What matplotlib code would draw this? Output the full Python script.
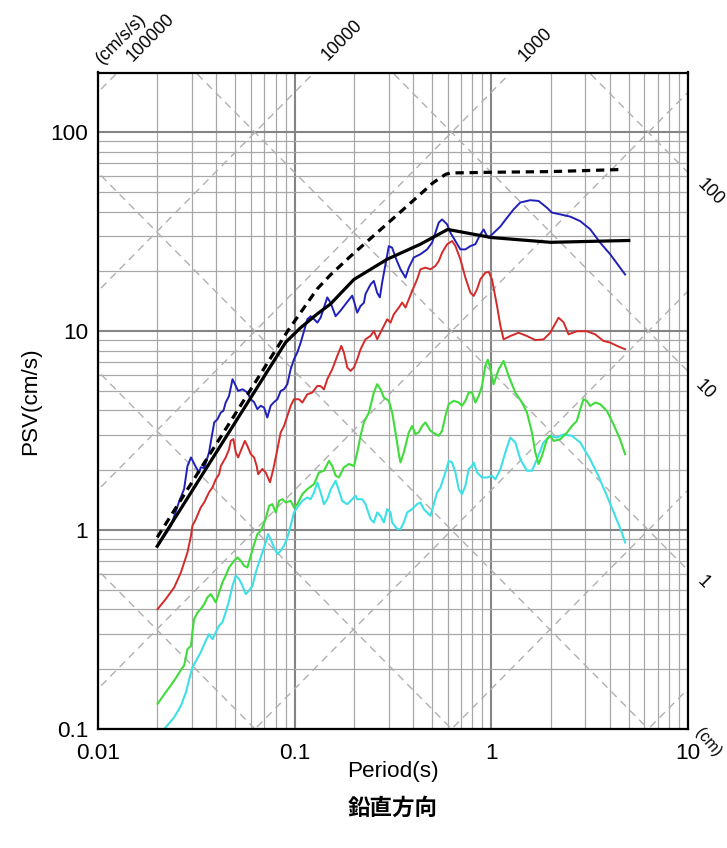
import numpy as np
import matplotlib
matplotlib.use("Agg")
import matplotlib.pyplot as plt
from matplotlib.ticker import LogLocator, NullFormatter, FixedLocator, FixedFormatter

plt.rcParams['font.family'] = ['Liberation Sans', 'DejaVu Sans']

# ---------------- data ----------------
x_ticks = [0.01, 0.1, 1, 10]
x_ticklabels = ['0.01', '0.1', '1', '10']
y_ticks = [0.1, 1, 10, 100]
y_ticklabels = ['0.1', '1', '10', '100']

accel_levels = [1e-1, 1e0, 1e1, 1e2, 1e3, 1e4, 1e5]          # cm/s/s
accel_labels = {1e5: '100000', 1e4: '10000', 1e3: '1000'}
disp_levels = [1e-3, 1e-2, 1e-1, 1e0, 1e1, 1e2]               # cm
disp_labels = {1e2: '100', 1e1: '10', 1e0: '1'}

design_T = [0.02, 0.09, 0.107, 0.13, 0.152, 0.2, 0.295, 0.436, 0.6, 1.0, 2.0, 5.0]
design_V = [0.83, 8.8, 10.4, 12.2, 13.7, 18.2, 23.0, 27.4, 32.5, 29.6, 28.0, 28.6]

upper_T = [0.02, 0.092, 0.13, 0.152, 0.192, 0.357, 0.508, 0.585, 0.62, 1.0, 2.0, 4.5]
upper_V = [0.92, 10.0, 16.3, 19.2, 23.8, 41.0, 56.0, 61.5, 62.5, 63.0, 63.5, 65.0]

blue_T = [0.0201, 0.0235, 0.0259, 0.0274, 0.0285, 0.0297, 0.0315, 0.0327, 0.0333, 0.0347,
          0.0367, 0.0382, 0.0390, 0.0405, 0.0421, 0.0434, 0.0446, 0.0464, 0.0483, 0.0502,
          0.0516, 0.0543, 0.0575, 0.0598, 0.0622, 0.0646, 0.0672, 0.0699, 0.0726, 0.0755,
          0.0785, 0.0817, 0.0849, 0.0883, 0.0918, 0.0954, 0.0992, 0.1031, 0.1073, 0.1115,
          0.1160, 0.1206, 0.1254, 0.1304, 0.1355, 0.1465, 0.1523, 0.1615, 0.1712, 0.1815,
          0.1962, 0.2001, 0.2080, 0.2163, 0.2249, 0.2293, 0.2431, 0.2527, 0.2628, 0.2711,
          0.2786, 0.2897, 0.3012, 0.3132, 0.3256, 0.3452, 0.3660, 0.3805, 0.4035, 0.4362,
          0.4715, 0.4998, 0.5196, 0.5404, 0.5619, 0.5957, 0.6194, 0.6567, 0.6961, 0.7380,
          0.7824, 0.8295, 0.8794, 0.9144, 0.9506, 0.969, 1.027, 1.111, 1.201, 1.298,
          1.404, 1.578, 1.739, 1.917, 2.033, 2.240, 2.518, 2.830, 3.180, 3.575,
          4.019, 4.788]
blue_V = [0.83, 1.05, 1.40, 1.61, 2.10, 2.32, 2.07, 1.95, 2.07, 2.05,
          2.46, 3.10, 3.48, 3.61, 3.90, 3.98, 4.38, 4.73, 5.74, 5.31,
          5.01, 5.11, 4.92, 4.55, 4.40, 4.06, 4.22, 4.13, 3.68, 4.22,
          4.40, 4.55, 5.01, 5.11, 5.42, 6.44, 7.23, 7.81, 8.77, 10.0,
          11.5, 11.9, 11.5, 11.05, 11.7, 14.8, 13.9, 11.9, 12.7, 13.7,
          15.1, 14.2, 12.4, 13.4, 13.9, 15.4, 17.2, 17.9, 15.6, 14.8,
          17.6, 21.7, 26.8, 26.3, 23.5, 20.5, 18.6, 20.9, 23.5, 24.4,
          25.8, 27.9, 31.3, 35.2, 36.5, 34.5, 31.3, 28.4, 25.8, 25.8,
          26.8, 27.4, 30.7, 32.5, 30.1, 29.5, 31.2, 33.6, 37.2, 41.0,
          44.4, 45.6, 45.2, 41.8, 39.5, 38.7, 37.7, 35.8, 32.6, 27.9,
          24.4, 19.3]

red_T = [0.0201, 0.0221, 0.0244, 0.0264, 0.0285, 0.0297, 0.0302, 0.0315, 0.0333, 0.0347,
         0.0367, 0.0382, 0.0397, 0.0413, 0.0421, 0.0446, 0.0464, 0.0473, 0.0488, 0.0502,
         0.0516, 0.0536, 0.0558, 0.0575, 0.0598, 0.0622, 0.0641, 0.0652, 0.0685, 0.0712,
         0.0749, 0.0779, 0.0817, 0.0849, 0.0883, 0.0954, 0.0992, 0.1052, 0.1094, 0.1160,
         0.1230, 0.1304, 0.1355, 0.1409, 0.1465, 0.1553, 0.1647, 0.1726, 0.1780, 0.1851,
         0.1924, 0.2001, 0.2080, 0.2163, 0.2293, 0.2431, 0.2527, 0.2628, 0.2732, 0.2841,
         0.2954, 0.3071, 0.3193, 0.3386, 0.3520, 0.3660, 0.3805, 0.3957, 0.4195, 0.4362,
         0.4624, 0.4902, 0.5196, 0.5404, 0.5619, 0.5957, 0.6317, 0.6567, 0.6961, 0.7380,
         0.7824, 0.8134, 0.8458, 0.8794, 0.9322, 0.9694, 1.008, 1.069, 1.111, 1.154,
         1.248, 1.376, 1.518, 1.673, 1.843, 1.993, 2.196, 2.328, 2.469, 2.722,
         3.060, 3.373, 3.716, 4.019, 4.346, 4.788]
red_V = [0.401, 0.450, 0.515, 0.613, 0.772, 0.936, 1.05, 1.14, 1.30, 1.38,
         1.55, 1.64, 1.80, 1.91, 2.10, 2.32, 2.55, 2.81, 2.87, 2.46,
         2.32, 2.55, 2.81, 2.65, 2.41, 2.32, 2.10, 1.91, 2.03, 1.95,
         1.74, 2.03, 2.55, 3.10, 3.34, 4.21, 4.55, 4.55, 4.38, 4.82,
         4.92, 5.31, 5.30, 5.10, 5.74, 6.44, 7.52, 8.44, 7.82, 6.57,
         6.32, 6.57, 7.23, 8.12, 9.12, 9.47, 10.04, 9.12, 9.85, 10.64,
         11.49, 11.05, 12.17, 13.15, 13.94, 13.15, 14.49, 15.95, 18.25, 20.49,
         20.89, 20.49, 21.30, 22.56, 24.85, 27.36, 28.44, 26.84, 23.0, 18.61,
         15.64, 15.05, 16.26, 18.25, 19.71, 19.9, 18.2, 13.4, 10.7, 9.1,
         9.46, 9.83, 9.46, 9.03, 9.10, 9.83, 11.7, 11.1, 9.65, 10.0,
         10.0, 9.65, 8.94, 8.77, 8.45, 8.12]

green_T = [0.0201, 0.0221, 0.0244, 0.0269, 0.0274, 0.0285, 0.0297, 0.0302, 0.0308, 0.0321,
           0.0333, 0.0347, 0.0360, 0.0375, 0.0397, 0.0413, 0.0429, 0.0446, 0.0464, 0.0492,
           0.0512, 0.0532, 0.0553, 0.0575, 0.0598, 0.0622, 0.0646, 0.0672, 0.0712, 0.0741,
           0.0770, 0.0801, 0.0833, 0.0866, 0.0900, 0.0954, 0.0992, 0.1031, 0.1094, 0.1160,
           0.1254, 0.1329, 0.1409, 0.1494, 0.1553, 0.1615, 0.1679, 0.1780, 0.1887, 0.2001,
           0.2080, 0.2163, 0.2249, 0.2384, 0.2527, 0.2628, 0.2732, 0.2841, 0.3012, 0.3132,
           0.3256, 0.3386, 0.3452, 0.3589, 0.3805, 0.3957, 0.4114, 0.4277, 0.4447, 0.4624,
           0.4902, 0.5196, 0.5404, 0.5619, 0.5841, 0.6073, 0.6439, 0.6826, 0.7098, 0.7380,
           0.7673, 0.7979, 0.8295, 0.8625, 0.8966, 0.9322, 0.9600, 0.9880, 1.027, 1.089,
           1.154, 1.224, 1.324, 1.432, 1.518, 1.609, 1.673, 1.739, 1.809, 1.917,
           1.993, 2.072, 2.240, 2.423, 2.568, 2.722, 2.830, 2.941, 3.060, 3.180,
           3.373, 3.575, 3.867, 4.176, 4.515, 4.788]
green_V = [0.134, 0.153, 0.175, 0.204, 0.208, 0.252, 0.262, 0.306, 0.357, 0.386,
           0.401, 0.425, 0.459, 0.477, 0.433, 0.486, 0.546, 0.590, 0.649, 0.701,
           0.729, 0.701, 0.662, 0.649, 0.743, 0.850, 0.955, 0.992, 1.136, 1.325,
           1.351, 1.227, 1.404, 1.431, 1.377, 1.404, 1.300, 1.351, 1.517, 1.607,
           1.703, 1.949, 1.987, 2.23, 2.10, 1.88, 1.84, 2.07, 2.15, 2.10,
           2.46, 2.98, 3.48, 3.90, 4.92, 5.42, 5.11, 4.64, 4.47, 3.90,
           3.10, 2.41, 2.19, 2.46, 3.10, 3.34, 3.04, 3.10, 3.34, 3.48,
           3.16, 3.04, 2.98, 3.16, 3.75, 4.30, 4.47, 4.38, 4.22, 4.47,
           4.92, 4.92, 4.38, 4.73, 5.31, 6.70, 7.20, 6.50, 5.41, 6.43,
           7.09, 5.96, 4.92, 4.38, 3.90, 3.09, 2.46, 2.15, 2.36, 2.86,
           2.98, 2.81, 2.86, 3.09, 3.34, 3.54, 4.05, 4.55, 4.46, 4.21,
           4.38, 4.30, 3.98, 3.41, 2.86, 2.41]

cyan_T = [0.0205, 0.0221, 0.0244, 0.0264, 0.0280, 0.0291, 0.0302, 0.0315, 0.0333, 0.0353,
          0.0367, 0.0382, 0.0397, 0.0413, 0.0429, 0.0446, 0.0464, 0.0483, 0.0502, 0.0522,
          0.0543, 0.0564, 0.0586, 0.0610, 0.0634, 0.0659, 0.0685, 0.0712, 0.0732, 0.0755,
          0.0785, 0.0817, 0.0849, 0.0883, 0.0918, 0.0954, 0.0992, 0.1031, 0.1094, 0.1160,
          0.1206, 0.1254, 0.1304, 0.1355, 0.1409, 0.1466, 0.1524, 0.1615, 0.1679, 0.1746,
          0.1851, 0.1962, 0.2040, 0.2080, 0.2206, 0.2293, 0.2431, 0.2527, 0.2628, 0.2732,
          0.2841, 0.2954, 0.3071, 0.3132, 0.3320, 0.3452, 0.3589, 0.3732, 0.3957, 0.4195,
          0.4362, 0.4535, 0.4715, 0.4902, 0.5097, 0.5300, 0.5510, 0.5841, 0.6073, 0.6317,
          0.6567, 0.6826, 0.7098, 0.7380, 0.7673, 0.7979, 0.8134, 0.8458, 0.8966, 0.9506,
          1.008, 1.048, 1.111, 1.178, 1.248, 1.324, 1.404, 1.518, 1.609, 1.706,
          1.843, 1.993, 2.156, 2.328, 2.568, 2.830, 3.180, 3.505, 3.867, 4.260,
          4.607, 4.788]
cyan_V = [0.093, 0.102, 0.1145, 0.131, 0.153, 0.178, 0.204, 0.220, 0.243, 0.278,
          0.300, 0.283, 0.306, 0.331, 0.344, 0.386, 0.441, 0.525, 0.590, 0.567,
          0.525, 0.477, 0.496, 0.525, 0.613, 0.688, 0.772, 0.867, 0.955, 0.901,
          0.818, 0.758, 0.787, 0.834, 0.919, 1.051, 1.227, 1.300, 1.404, 1.459,
          1.431, 1.546, 1.736, 1.550, 1.350, 1.430, 1.600, 1.770, 1.580, 1.400,
          1.350, 1.430, 1.490, 1.430, 1.430, 1.350, 1.136, 1.093, 1.227, 1.180,
          1.093, 1.275, 1.227, 1.093, 1.012, 1.012, 1.093, 1.227, 1.275, 1.351,
          1.377, 1.275, 1.227, 1.180, 1.351, 1.546, 1.638, 1.949, 2.230, 2.188,
          1.949, 1.607, 1.517, 1.670, 2.026, 2.105, 2.188, 1.949, 1.839, 1.839,
          1.875, 1.800, 2.020, 2.460, 2.920, 2.760, 2.270, 1.990, 1.990, 2.270,
          2.760, 2.980, 2.920, 3.030, 2.980, 2.760, 2.270, 1.870, 1.490, 1.180,
          0.973, 0.867]

# ---------------- figure ----------------
W, H = 727, 848
fig = plt.figure(figsize=(W / 100, H / 100), dpi=100)
ax_l, ax_r, ax_t, ax_b = 98, 688, 72.5, 729
ax = fig.add_axes([ax_l / W, (H - ax_b) / H, (ax_r - ax_l) / W, (ax_b - ax_t) / H])
ax.set_xscale('log')
ax.set_yscale('log')

# tripartite diagonal grid
T_line = np.array([0.001, 100.0])
for A in accel_levels:
    ax.plot(T_line, A * T_line / (2 * np.pi), color='#b0b0b0', lw=1.0,
            linestyle=(0, (5.5, 4)), zorder=1)
for D in disp_levels:
    ax.plot(T_line, 2 * np.pi * D / T_line, color='#b0b0b0', lw=1.0,
            linestyle=(0, (5.5, 4)), zorder=1)

# spectra
ax.plot(cyan_T, cyan_V, color='#3ee0e6', lw=1.5, zorder=3)
ax.plot(green_T, green_V, color='#3fdc3a', lw=1.5, zorder=3)
ax.plot(red_T, red_V, color='#d42a2a', lw=1.4, zorder=3)
ax.plot(blue_T, blue_V, color='#2020b8', lw=1.4, zorder=3)
ax.plot(upper_T, upper_V, color='black', lw=2.3, linestyle=(0, (2.6, 1.8)), zorder=4)
ax.plot(design_T, design_V, color='black', lw=2.3, zorder=4)

ax.set_xlim(0.01, 10)
ax.set_ylim(0.1, 200)

# grid
ax.xaxis.set_minor_locator(LogLocator(base=10, subs=np.arange(2, 10)))
ax.yaxis.set_minor_locator(LogLocator(base=10, subs=np.arange(2, 10)))
ax.xaxis.set_minor_formatter(NullFormatter())
ax.yaxis.set_minor_formatter(NullFormatter())
ax.xaxis.set_major_locator(FixedLocator(x_ticks))
ax.xaxis.set_major_formatter(FixedFormatter(x_ticklabels))
ax.yaxis.set_major_locator(FixedLocator(y_ticks))
ax.yaxis.set_major_formatter(FixedFormatter(y_ticklabels))
ax.set_axisbelow(True)
ax.grid(which='major', color='#858585', lw=1.5, zorder=0)
ax.grid(which='minor', color='#a8a8a8', lw=0.9, zorder=0)
ax.tick_params(which='both', length=0)
ax.tick_params(axis='x', labelsize=16.2, pad=10)
ax.tick_params(axis='y', labelsize=16.2, pad=7)
for s in ax.spines.values():
    s.set_linewidth(1.6)
    s.set_zorder(5)

# axis labels
ax.set_xlabel('Period(s)', fontsize=16.2)
ax.xaxis.label.set_va('center')
ax.xaxis.set_label_coords(0.5, (ax_b - 771) / (ax_b - ax_t))
ax.set_ylabel('PSV(cm/s)', fontsize=16.2)
ax.yaxis.label.set_va('center')
ax.yaxis.set_label_coords((31 - ax_l) / (ax_r - ax_l), 0.5)

# diagonal scale labels (acceleration, top)
diag_fs = 12.8
Vtop = 200.0
acc_offsets = {1e5: (33, 35), 1e4: (28, 32), 1e3: (25, 27.5)}
for A, txt in accel_labels.items():
    T_top = 2 * np.pi * Vtop / A
    ax.annotate(txt, xy=(T_top, Vtop), xycoords='data', xytext=acc_offsets[A],
                textcoords='offset pixels', rotation=45, rotation_mode='anchor',
                ha='center', va='center', fontsize=diag_fs, annotation_clip=False)
ax.annotate('(cm/s/s)', xy=(2 * np.pi * Vtop / 1e5, Vtop), xycoords='data', xytext=(3.5, 33.5),
            textcoords='offset pixels', rotation=45, rotation_mode='anchor',
            ha='center', va='center', fontsize=diag_fs, annotation_clip=False)

# diagonal scale labels (displacement, right)
Tright = 10.0
disp_offsets = {1e2: (22, -20), 1e1: (17, -18.5), 1e0: (15, -12)}
for D, txt in disp_labels.items():
    V_r = 2 * np.pi * D / Tright
    ax.annotate(txt, xy=(Tright, V_r), xycoords='data', xytext=disp_offsets[D],
                textcoords='offset pixels', rotation=-45, rotation_mode='anchor',
                ha='center', va='center', fontsize=diag_fs, annotation_clip=False)
ax.annotate('(cm)', xy=(Tright, 0.1), xycoords='data', xytext=(20, -13),
            textcoords='offset pixels', rotation=-50, rotation_mode='anchor',
            ha='center', va='center', fontsize=11.5, annotation_clip=False)

fig.text(393 / W, 1 - 808 / H, '鉛直方向', family=['Noto Sans CJK JP', 'DejaVu Sans'],
         fontsize=16.2, weight='bold', ha='center', va='center')

fig.savefig('out.png', dpi=100)
